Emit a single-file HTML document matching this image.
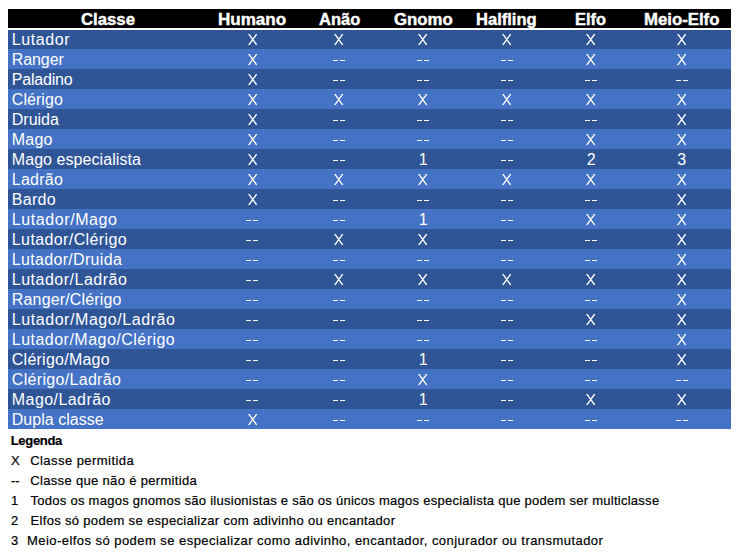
<!DOCTYPE html>
<html><head><meta charset="utf-8">
<style>
html,body{margin:0;padding:0;background:#fff;width:740px;height:554px;overflow:hidden;position:relative;font-family:"Liberation Sans",sans-serif;}
.hd{position:absolute;left:8px;top:9px;width:723px;height:19px;background:#000;}
.wl{position:absolute;left:8px;top:28px;width:723px;height:2px;background:#fff;}
.r{position:absolute;left:8px;width:723px;height:20px;}
.d{background:#2F5597;}
.l{background:#4472C4;}
.t{position:absolute;white-space:nowrap;color:#fff;font-size:16px;line-height:20px;}
.cx,.cn{width:40px;text-align:center;}
.cx{transform:scaleX(0.86);}
.sx{position:absolute;}
.ds{position:absolute;width:5px;height:1px;background:#fff;}
.h{position:absolute;transform-origin:0 0;white-space:nowrap;color:#fff;font-size:16px;font-weight:bold;line-height:19px;-webkit-text-stroke:0.4px #fff;}
.lg{position:absolute;white-space:nowrap;color:#000;-webkit-text-stroke:0.2px #000;font-size:13px;line-height:20px;}
</style></head><body>
<div class="hd"></div>
<div class="r d" style="top:29px"></div>
<div class="r l" style="top:49px"></div>
<div class="r d" style="top:69px"></div>
<div class="r l" style="top:89px"></div>
<div class="r d" style="top:109px"></div>
<div class="r l" style="top:129px"></div>
<div class="r d" style="top:149px"></div>
<div class="r l" style="top:169px"></div>
<div class="r d" style="top:189px"></div>
<div class="r l" style="top:209px"></div>
<div class="r d" style="top:229px"></div>
<div class="r l" style="top:249px"></div>
<div class="r d" style="top:269px"></div>
<div class="r l" style="top:289px"></div>
<div class="r d" style="top:309px"></div>
<div class="r l" style="top:329px"></div>
<div class="r d" style="top:349px"></div>
<div class="r l" style="top:369px"></div>
<div class="r d" style="top:389px"></div>
<div class="r l" style="top:409px"></div>
<div class="wl"></div>
<div class="t" style="left:11.8px;top:30.0px;letter-spacing:0.567px">Lutador</div>
<svg class="sx" style="left:247.65px;top:34px" width="9.5" height="11" viewBox="0 0 9.5 11"><path d="M0 0H1.65L9.5 11H7.85ZM7.85 0H9.5L1.65 11H0Z" fill="#fff"/></svg>
<svg class="sx" style="left:334.35px;top:34px" width="9.5" height="11" viewBox="0 0 9.5 11"><path d="M0 0H1.65L9.5 11H7.85ZM7.85 0H9.5L1.65 11H0Z" fill="#fff"/></svg>
<svg class="sx" style="left:418.45px;top:34px" width="9.5" height="11" viewBox="0 0 9.5 11"><path d="M0 0H1.65L9.5 11H7.85ZM7.85 0H9.5L1.65 11H0Z" fill="#fff"/></svg>
<svg class="sx" style="left:501.75px;top:34px" width="9.5" height="11" viewBox="0 0 9.5 11"><path d="M0 0H1.65L9.5 11H7.85ZM7.85 0H9.5L1.65 11H0Z" fill="#fff"/></svg>
<svg class="sx" style="left:586.35px;top:34px" width="9.5" height="11" viewBox="0 0 9.5 11"><path d="M0 0H1.65L9.5 11H7.85ZM7.85 0H9.5L1.65 11H0Z" fill="#fff"/></svg>
<svg class="sx" style="left:676.85px;top:34px" width="9.5" height="11" viewBox="0 0 9.5 11"><path d="M0 0H1.65L9.5 11H7.85ZM7.85 0H9.5L1.65 11H0Z" fill="#fff"/></svg>
<div class="t" style="left:11.8px;top:50.0px;letter-spacing:-0.1px">Ranger</div>
<svg class="sx" style="left:247.65px;top:54px" width="9.5" height="11" viewBox="0 0 9.5 11"><path d="M0 0H1.65L9.5 11H7.85ZM7.85 0H9.5L1.65 11H0Z" fill="#fff"/></svg>
<div class="ds" style="left:333px;top:60px"></div><div class="ds" style="left:340px;top:60px"></div>
<div class="ds" style="left:417px;top:60px"></div><div class="ds" style="left:424px;top:60px"></div>
<div class="ds" style="left:501px;top:60px"></div><div class="ds" style="left:508px;top:60px"></div>
<svg class="sx" style="left:586.35px;top:54px" width="9.5" height="11" viewBox="0 0 9.5 11"><path d="M0 0H1.65L9.5 11H7.85ZM7.85 0H9.5L1.65 11H0Z" fill="#fff"/></svg>
<svg class="sx" style="left:676.85px;top:54px" width="9.5" height="11" viewBox="0 0 9.5 11"><path d="M0 0H1.65L9.5 11H7.85ZM7.85 0H9.5L1.65 11H0Z" fill="#fff"/></svg>
<div class="t" style="left:11.8px;top:70.0px;letter-spacing:-0.214px">Paladino</div>
<svg class="sx" style="left:247.65px;top:74px" width="9.5" height="11" viewBox="0 0 9.5 11"><path d="M0 0H1.65L9.5 11H7.85ZM7.85 0H9.5L1.65 11H0Z" fill="#fff"/></svg>
<div class="ds" style="left:333px;top:80px"></div><div class="ds" style="left:340px;top:80px"></div>
<div class="ds" style="left:417px;top:80px"></div><div class="ds" style="left:424px;top:80px"></div>
<div class="ds" style="left:501px;top:80px"></div><div class="ds" style="left:508px;top:80px"></div>
<div class="ds" style="left:585px;top:80px"></div><div class="ds" style="left:592px;top:80px"></div>
<div class="ds" style="left:676px;top:80px"></div><div class="ds" style="left:683px;top:80px"></div>
<div class="t" style="left:11.8px;top:90.0px;letter-spacing:0.05px">Clérigo</div>
<svg class="sx" style="left:247.65px;top:94px" width="9.5" height="11" viewBox="0 0 9.5 11"><path d="M0 0H1.65L9.5 11H7.85ZM7.85 0H9.5L1.65 11H0Z" fill="#fff"/></svg>
<svg class="sx" style="left:334.35px;top:94px" width="9.5" height="11" viewBox="0 0 9.5 11"><path d="M0 0H1.65L9.5 11H7.85ZM7.85 0H9.5L1.65 11H0Z" fill="#fff"/></svg>
<svg class="sx" style="left:418.45px;top:94px" width="9.5" height="11" viewBox="0 0 9.5 11"><path d="M0 0H1.65L9.5 11H7.85ZM7.85 0H9.5L1.65 11H0Z" fill="#fff"/></svg>
<svg class="sx" style="left:501.75px;top:94px" width="9.5" height="11" viewBox="0 0 9.5 11"><path d="M0 0H1.65L9.5 11H7.85ZM7.85 0H9.5L1.65 11H0Z" fill="#fff"/></svg>
<svg class="sx" style="left:586.35px;top:94px" width="9.5" height="11" viewBox="0 0 9.5 11"><path d="M0 0H1.65L9.5 11H7.85ZM7.85 0H9.5L1.65 11H0Z" fill="#fff"/></svg>
<svg class="sx" style="left:676.85px;top:94px" width="9.5" height="11" viewBox="0 0 9.5 11"><path d="M0 0H1.65L9.5 11H7.85ZM7.85 0H9.5L1.65 11H0Z" fill="#fff"/></svg>
<div class="t" style="left:11.8px;top:110.0px;letter-spacing:-0.02px">Druida</div>
<svg class="sx" style="left:247.65px;top:114px" width="9.5" height="11" viewBox="0 0 9.5 11"><path d="M0 0H1.65L9.5 11H7.85ZM7.85 0H9.5L1.65 11H0Z" fill="#fff"/></svg>
<div class="ds" style="left:333px;top:120px"></div><div class="ds" style="left:340px;top:120px"></div>
<div class="ds" style="left:417px;top:120px"></div><div class="ds" style="left:424px;top:120px"></div>
<div class="ds" style="left:501px;top:120px"></div><div class="ds" style="left:508px;top:120px"></div>
<div class="ds" style="left:585px;top:120px"></div><div class="ds" style="left:592px;top:120px"></div>
<svg class="sx" style="left:676.85px;top:114px" width="9.5" height="11" viewBox="0 0 9.5 11"><path d="M0 0H1.65L9.5 11H7.85ZM7.85 0H9.5L1.65 11H0Z" fill="#fff"/></svg>
<div class="t" style="left:11.8px;top:130.0px;letter-spacing:0.2px">Mago</div>
<svg class="sx" style="left:247.65px;top:134px" width="9.5" height="11" viewBox="0 0 9.5 11"><path d="M0 0H1.65L9.5 11H7.85ZM7.85 0H9.5L1.65 11H0Z" fill="#fff"/></svg>
<div class="ds" style="left:333px;top:140px"></div><div class="ds" style="left:340px;top:140px"></div>
<div class="ds" style="left:417px;top:140px"></div><div class="ds" style="left:424px;top:140px"></div>
<div class="ds" style="left:501px;top:140px"></div><div class="ds" style="left:508px;top:140px"></div>
<svg class="sx" style="left:586.35px;top:134px" width="9.5" height="11" viewBox="0 0 9.5 11"><path d="M0 0H1.65L9.5 11H7.85ZM7.85 0H9.5L1.65 11H0Z" fill="#fff"/></svg>
<svg class="sx" style="left:676.85px;top:134px" width="9.5" height="11" viewBox="0 0 9.5 11"><path d="M0 0H1.65L9.5 11H7.85ZM7.85 0H9.5L1.65 11H0Z" fill="#fff"/></svg>
<div class="t" style="left:11.8px;top:150.0px;letter-spacing:0.062px">Mago especialista</div>
<svg class="sx" style="left:247.65px;top:154px" width="9.5" height="11" viewBox="0 0 9.5 11"><path d="M0 0H1.65L9.5 11H7.85ZM7.85 0H9.5L1.65 11H0Z" fill="#fff"/></svg>
<div class="ds" style="left:333px;top:160px"></div><div class="ds" style="left:340px;top:160px"></div>
<div class="t cn" style="left:403.2px;top:150.0px">1</div>
<div class="ds" style="left:501px;top:160px"></div><div class="ds" style="left:508px;top:160px"></div>
<div class="t cn" style="left:571.1px;top:150.0px">2</div>
<div class="t cn" style="left:661.6px;top:150.0px">3</div>
<div class="t" style="left:11.8px;top:170.0px;letter-spacing:0.26px">Ladrão</div>
<svg class="sx" style="left:247.65px;top:174px" width="9.5" height="11" viewBox="0 0 9.5 11"><path d="M0 0H1.65L9.5 11H7.85ZM7.85 0H9.5L1.65 11H0Z" fill="#fff"/></svg>
<svg class="sx" style="left:334.35px;top:174px" width="9.5" height="11" viewBox="0 0 9.5 11"><path d="M0 0H1.65L9.5 11H7.85ZM7.85 0H9.5L1.65 11H0Z" fill="#fff"/></svg>
<svg class="sx" style="left:418.45px;top:174px" width="9.5" height="11" viewBox="0 0 9.5 11"><path d="M0 0H1.65L9.5 11H7.85ZM7.85 0H9.5L1.65 11H0Z" fill="#fff"/></svg>
<svg class="sx" style="left:501.75px;top:174px" width="9.5" height="11" viewBox="0 0 9.5 11"><path d="M0 0H1.65L9.5 11H7.85ZM7.85 0H9.5L1.65 11H0Z" fill="#fff"/></svg>
<svg class="sx" style="left:586.35px;top:174px" width="9.5" height="11" viewBox="0 0 9.5 11"><path d="M0 0H1.65L9.5 11H7.85ZM7.85 0H9.5L1.65 11H0Z" fill="#fff"/></svg>
<svg class="sx" style="left:676.85px;top:174px" width="9.5" height="11" viewBox="0 0 9.5 11"><path d="M0 0H1.65L9.5 11H7.85ZM7.85 0H9.5L1.65 11H0Z" fill="#fff"/></svg>
<div class="t" style="left:11.8px;top:190.0px;letter-spacing:0.3px">Bardo</div>
<svg class="sx" style="left:247.65px;top:194px" width="9.5" height="11" viewBox="0 0 9.5 11"><path d="M0 0H1.65L9.5 11H7.85ZM7.85 0H9.5L1.65 11H0Z" fill="#fff"/></svg>
<div class="ds" style="left:333px;top:200px"></div><div class="ds" style="left:340px;top:200px"></div>
<div class="ds" style="left:417px;top:200px"></div><div class="ds" style="left:424px;top:200px"></div>
<div class="ds" style="left:501px;top:200px"></div><div class="ds" style="left:508px;top:200px"></div>
<div class="ds" style="left:585px;top:200px"></div><div class="ds" style="left:592px;top:200px"></div>
<svg class="sx" style="left:676.85px;top:194px" width="9.5" height="11" viewBox="0 0 9.5 11"><path d="M0 0H1.65L9.5 11H7.85ZM7.85 0H9.5L1.65 11H0Z" fill="#fff"/></svg>
<div class="t" style="left:11.8px;top:210.0px;letter-spacing:0.582px">Lutador/Mago</div>
<div class="ds" style="left:246px;top:220px"></div><div class="ds" style="left:253px;top:220px"></div>
<div class="ds" style="left:333px;top:220px"></div><div class="ds" style="left:340px;top:220px"></div>
<div class="t cn" style="left:403.2px;top:210.0px">1</div>
<div class="ds" style="left:501px;top:220px"></div><div class="ds" style="left:508px;top:220px"></div>
<svg class="sx" style="left:586.35px;top:214px" width="9.5" height="11" viewBox="0 0 9.5 11"><path d="M0 0H1.65L9.5 11H7.85ZM7.85 0H9.5L1.65 11H0Z" fill="#fff"/></svg>
<svg class="sx" style="left:676.85px;top:214px" width="9.5" height="11" viewBox="0 0 9.5 11"><path d="M0 0H1.65L9.5 11H7.85ZM7.85 0H9.5L1.65 11H0Z" fill="#fff"/></svg>
<div class="t" style="left:11.8px;top:230.0px;letter-spacing:0.393px">Lutador/Clérigo</div>
<div class="ds" style="left:246px;top:240px"></div><div class="ds" style="left:253px;top:240px"></div>
<svg class="sx" style="left:334.35px;top:234px" width="9.5" height="11" viewBox="0 0 9.5 11"><path d="M0 0H1.65L9.5 11H7.85ZM7.85 0H9.5L1.65 11H0Z" fill="#fff"/></svg>
<svg class="sx" style="left:418.45px;top:234px" width="9.5" height="11" viewBox="0 0 9.5 11"><path d="M0 0H1.65L9.5 11H7.85ZM7.85 0H9.5L1.65 11H0Z" fill="#fff"/></svg>
<div class="ds" style="left:501px;top:240px"></div><div class="ds" style="left:508px;top:240px"></div>
<div class="ds" style="left:585px;top:240px"></div><div class="ds" style="left:592px;top:240px"></div>
<svg class="sx" style="left:676.85px;top:234px" width="9.5" height="11" viewBox="0 0 9.5 11"><path d="M0 0H1.65L9.5 11H7.85ZM7.85 0H9.5L1.65 11H0Z" fill="#fff"/></svg>
<div class="t" style="left:11.8px;top:250.0px;letter-spacing:0.323px">Lutador/Druida</div>
<div class="ds" style="left:246px;top:260px"></div><div class="ds" style="left:253px;top:260px"></div>
<div class="ds" style="left:333px;top:260px"></div><div class="ds" style="left:340px;top:260px"></div>
<div class="ds" style="left:417px;top:260px"></div><div class="ds" style="left:424px;top:260px"></div>
<div class="ds" style="left:501px;top:260px"></div><div class="ds" style="left:508px;top:260px"></div>
<div class="ds" style="left:585px;top:260px"></div><div class="ds" style="left:592px;top:260px"></div>
<svg class="sx" style="left:676.85px;top:254px" width="9.5" height="11" viewBox="0 0 9.5 11"><path d="M0 0H1.65L9.5 11H7.85ZM7.85 0H9.5L1.65 11H0Z" fill="#fff"/></svg>
<div class="t" style="left:11.8px;top:270.0px;letter-spacing:0.5px">Lutador/Ladrão</div>
<div class="ds" style="left:246px;top:280px"></div><div class="ds" style="left:253px;top:280px"></div>
<svg class="sx" style="left:334.35px;top:274px" width="9.5" height="11" viewBox="0 0 9.5 11"><path d="M0 0H1.65L9.5 11H7.85ZM7.85 0H9.5L1.65 11H0Z" fill="#fff"/></svg>
<svg class="sx" style="left:418.45px;top:274px" width="9.5" height="11" viewBox="0 0 9.5 11"><path d="M0 0H1.65L9.5 11H7.85ZM7.85 0H9.5L1.65 11H0Z" fill="#fff"/></svg>
<svg class="sx" style="left:501.75px;top:274px" width="9.5" height="11" viewBox="0 0 9.5 11"><path d="M0 0H1.65L9.5 11H7.85ZM7.85 0H9.5L1.65 11H0Z" fill="#fff"/></svg>
<svg class="sx" style="left:586.35px;top:274px" width="9.5" height="11" viewBox="0 0 9.5 11"><path d="M0 0H1.65L9.5 11H7.85ZM7.85 0H9.5L1.65 11H0Z" fill="#fff"/></svg>
<svg class="sx" style="left:676.85px;top:274px" width="9.5" height="11" viewBox="0 0 9.5 11"><path d="M0 0H1.65L9.5 11H7.85ZM7.85 0H9.5L1.65 11H0Z" fill="#fff"/></svg>
<div class="t" style="left:11.8px;top:290.0px;letter-spacing:0.162px">Ranger/Clérigo</div>
<div class="ds" style="left:246px;top:300px"></div><div class="ds" style="left:253px;top:300px"></div>
<div class="ds" style="left:333px;top:300px"></div><div class="ds" style="left:340px;top:300px"></div>
<div class="ds" style="left:417px;top:300px"></div><div class="ds" style="left:424px;top:300px"></div>
<div class="ds" style="left:501px;top:300px"></div><div class="ds" style="left:508px;top:300px"></div>
<div class="ds" style="left:585px;top:300px"></div><div class="ds" style="left:592px;top:300px"></div>
<svg class="sx" style="left:676.85px;top:294px" width="9.5" height="11" viewBox="0 0 9.5 11"><path d="M0 0H1.65L9.5 11H7.85ZM7.85 0H9.5L1.65 11H0Z" fill="#fff"/></svg>
<div class="t" style="left:11.8px;top:310.0px;letter-spacing:0.561px">Lutador/Mago/Ladrão</div>
<div class="ds" style="left:246px;top:320px"></div><div class="ds" style="left:253px;top:320px"></div>
<div class="ds" style="left:333px;top:320px"></div><div class="ds" style="left:340px;top:320px"></div>
<div class="ds" style="left:417px;top:320px"></div><div class="ds" style="left:424px;top:320px"></div>
<div class="ds" style="left:501px;top:320px"></div><div class="ds" style="left:508px;top:320px"></div>
<svg class="sx" style="left:586.35px;top:314px" width="9.5" height="11" viewBox="0 0 9.5 11"><path d="M0 0H1.65L9.5 11H7.85ZM7.85 0H9.5L1.65 11H0Z" fill="#fff"/></svg>
<svg class="sx" style="left:676.85px;top:314px" width="9.5" height="11" viewBox="0 0 9.5 11"><path d="M0 0H1.65L9.5 11H7.85ZM7.85 0H9.5L1.65 11H0Z" fill="#fff"/></svg>
<div class="t" style="left:11.8px;top:330.0px;letter-spacing:0.479px">Lutador/Mago/Clérigo</div>
<div class="ds" style="left:246px;top:340px"></div><div class="ds" style="left:253px;top:340px"></div>
<div class="ds" style="left:333px;top:340px"></div><div class="ds" style="left:340px;top:340px"></div>
<div class="ds" style="left:417px;top:340px"></div><div class="ds" style="left:424px;top:340px"></div>
<div class="ds" style="left:501px;top:340px"></div><div class="ds" style="left:508px;top:340px"></div>
<div class="ds" style="left:585px;top:340px"></div><div class="ds" style="left:592px;top:340px"></div>
<svg class="sx" style="left:676.85px;top:334px" width="9.5" height="11" viewBox="0 0 9.5 11"><path d="M0 0H1.65L9.5 11H7.85ZM7.85 0H9.5L1.65 11H0Z" fill="#fff"/></svg>
<div class="t" style="left:11.8px;top:350.0px;letter-spacing:0.245px">Clérigo/Mago</div>
<div class="ds" style="left:246px;top:360px"></div><div class="ds" style="left:253px;top:360px"></div>
<div class="ds" style="left:333px;top:360px"></div><div class="ds" style="left:340px;top:360px"></div>
<div class="t cn" style="left:403.2px;top:350.0px">1</div>
<div class="ds" style="left:501px;top:360px"></div><div class="ds" style="left:508px;top:360px"></div>
<div class="ds" style="left:585px;top:360px"></div><div class="ds" style="left:592px;top:360px"></div>
<svg class="sx" style="left:676.85px;top:354px" width="9.5" height="11" viewBox="0 0 9.5 11"><path d="M0 0H1.65L9.5 11H7.85ZM7.85 0H9.5L1.65 11H0Z" fill="#fff"/></svg>
<div class="t" style="left:11.8px;top:370.0px;letter-spacing:0.315px">Clérigo/Ladrão</div>
<div class="ds" style="left:246px;top:380px"></div><div class="ds" style="left:253px;top:380px"></div>
<div class="ds" style="left:333px;top:380px"></div><div class="ds" style="left:340px;top:380px"></div>
<svg class="sx" style="left:418.45px;top:374px" width="9.5" height="11" viewBox="0 0 9.5 11"><path d="M0 0H1.65L9.5 11H7.85ZM7.85 0H9.5L1.65 11H0Z" fill="#fff"/></svg>
<div class="ds" style="left:501px;top:380px"></div><div class="ds" style="left:508px;top:380px"></div>
<div class="ds" style="left:585px;top:380px"></div><div class="ds" style="left:592px;top:380px"></div>
<div class="ds" style="left:676px;top:380px"></div><div class="ds" style="left:683px;top:380px"></div>
<div class="t" style="left:11.8px;top:390.0px;letter-spacing:0.43px">Mago/Ladrão</div>
<div class="ds" style="left:246px;top:400px"></div><div class="ds" style="left:253px;top:400px"></div>
<div class="ds" style="left:333px;top:400px"></div><div class="ds" style="left:340px;top:400px"></div>
<div class="t cn" style="left:403.2px;top:390.0px">1</div>
<div class="ds" style="left:501px;top:400px"></div><div class="ds" style="left:508px;top:400px"></div>
<svg class="sx" style="left:586.35px;top:394px" width="9.5" height="11" viewBox="0 0 9.5 11"><path d="M0 0H1.65L9.5 11H7.85ZM7.85 0H9.5L1.65 11H0Z" fill="#fff"/></svg>
<svg class="sx" style="left:676.85px;top:394px" width="9.5" height="11" viewBox="0 0 9.5 11"><path d="M0 0H1.65L9.5 11H7.85ZM7.85 0H9.5L1.65 11H0Z" fill="#fff"/></svg>
<div class="t" style="left:11.8px;top:410.0px;letter-spacing:0.018px">Dupla classe</div>
<svg class="sx" style="left:247.65px;top:414px" width="9.5" height="11" viewBox="0 0 9.5 11"><path d="M0 0H1.65L9.5 11H7.85ZM7.85 0H9.5L1.65 11H0Z" fill="#fff"/></svg>
<div class="ds" style="left:333px;top:420px"></div><div class="ds" style="left:340px;top:420px"></div>
<div class="ds" style="left:417px;top:420px"></div><div class="ds" style="left:424px;top:420px"></div>
<div class="ds" style="left:501px;top:420px"></div><div class="ds" style="left:508px;top:420px"></div>
<div class="ds" style="left:585px;top:420px"></div><div class="ds" style="left:592px;top:420px"></div>
<div class="ds" style="left:676px;top:420px"></div><div class="ds" style="left:683px;top:420px"></div>
<div class="h" style="left:80.65px;top:9.5px;transform:scaleX(1.0460)">Classe</div>
<div class="h" style="left:217.93px;top:9.5px;transform:scaleX(1.0651)">Humano</div>
<div class="h" style="left:318.70px;top:9.5px;transform:scaleX(1.0300)">Anão</div>
<div class="h" style="left:393.55px;top:9.5px;transform:scaleX(1.0491)">Gnomo</div>
<div class="h" style="left:476.27px;top:9.5px;transform:scaleX(1.0333)">Halfling</div>
<div class="h" style="left:575.48px;top:9.5px;transform:scaleX(1.0241)">Elfo</div>
<div class="h" style="left:643.65px;top:9.5px;transform:scaleX(1.0479)">Meio-Elfo</div>
<div class="lg" style="left:10.7px;top:431.0px;font-weight:bold;letter-spacing:-0.3px">Legenda</div>
<div class="lg" style="left:11px;top:451.0px">X</div>
<div class="lg" style="left:30.2px;top:451.0px;letter-spacing:0.447px">Classe permitida</div>
<div class="lg" style="left:11px;top:471.0px">--</div>
<div class="lg" style="left:30.3px;top:471.0px;letter-spacing:0.328px">Classe que não é permitida</div>
<div class="lg" style="left:11px;top:491.0px">1</div>
<div class="lg" style="left:30.6px;top:491.0px;letter-spacing:0.264px">Todos os magos gnomos são ilusionistas e são os únicos magos especialista que podem ser multiclasse</div>
<div class="lg" style="left:11px;top:511.0px">2</div>
<div class="lg" style="left:30.5px;top:511.0px;letter-spacing:0.327px">Elfos só podem se especializar com adivinho ou encantador</div>
<div class="lg" style="left:11px;top:531.0px">3</div>
<div class="lg" style="left:27.0px;top:531.0px;letter-spacing:0.451px">Meio-elfos só podem se especializar como adivinho, encantador, conjurador ou transmutador</div>
</body></html>
